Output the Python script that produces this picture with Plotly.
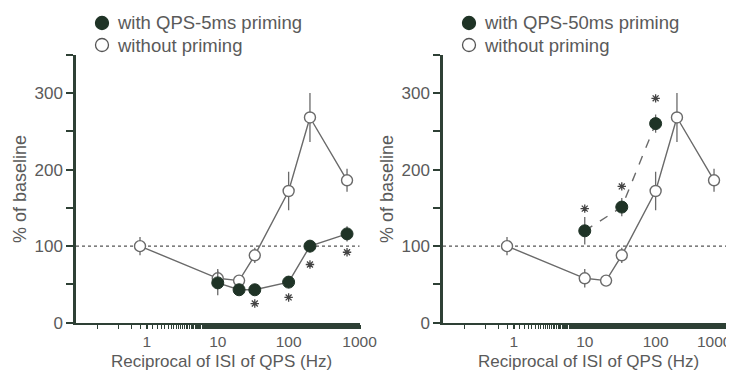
import plotly.graph_objects as go

# ---- data ----
freq = [0.8, 10, 20, 33.3, 100, 200, 667]
no_prime = [100, 58, 55, 88, 172, 268, 186]
no_prime_err = [12, 12, 4, 10, 25, 32, 15]

freq_5ms = [10, 20, 33.3, 100, 200, 667]
prime_5ms = [52, 43, 43, 53, 100, 116]
prime_5ms_err = [16, 5, 5, 8, 8, 10]
sig_5ms_x = [33.3, 100, 200, 667]
sig_5ms_y = [25, 33, 76, 92]

freq_50ms = [10, 33.3, 100]
prime_50ms = [120, 151, 260]
prime_50ms_err = [18, 12, 12]
sig_50ms_x = [10, 33.3, 100]
sig_50ms_y = [149, 178, 293]

y_ticks = [0, 100, 200, 300]
x_ticks = [1, 10, 100, 1000]
legend_5ms = ["with QPS-5ms priming", "without priming"]
legend_50ms = ["with QPS-50ms priming", "without priming"]
x_title = "Reciprocal of ISI of QPS (Hz)"
y_title = "% of baseline"

DARK = "#1f3326"
GREY = "#6a6a6a"
AX = "#2e4035"
TXT = "#5a5a5a"
FONT = "Liberation Sans, Arial, sans-serif"

# the page body has an 8px margin; size the figure so it fills the 734x371 window
OFF = 8
W, H = 734 - OFF, 371 - OFF

def px(x):
    return (x - OFF) / W

def py(y):
    return 1 - (y - OFF) / H

fig = go.Figure()

def add_panel(xa, ya, fx, fy, fe, dash, sx, sy):
    fig.add_trace(go.Scatter(
        x=freq, y=no_prime, xaxis=xa, yaxis=ya, mode="lines+markers",
        line=dict(color=GREY, width=1.4),
        marker=dict(symbol="circle", size=11, color="white", line=dict(color=GREY, width=1.4)),
        error_y=dict(type="data", array=no_prime_err, color=GREY, thickness=1.3, width=0),
        showlegend=False, cliponaxis=False))
    fig.add_trace(go.Scatter(
        x=fx, y=fy, xaxis=xa, yaxis=ya, mode="lines+markers",
        line=dict(color=GREY, width=1.4, dash=dash),
        marker=dict(symbol="circle", size=12, color=DARK, line=dict(color=DARK, width=1)),
        error_y=dict(type="data", array=fe, color=GREY, thickness=1.3, width=0),
        showlegend=False, cliponaxis=False))
    fig.add_trace(go.Scatter(
        x=sx, y=sy, xaxis=xa, yaxis=ya, mode="markers",
        marker=dict(symbol="asterisk-open", size=7, color="#444", line=dict(color="#444", width=1.3)),
        showlegend=False, cliponaxis=False))

add_panel("x", "y", freq_5ms, prime_5ms, prime_5ms_err, "solid", sig_5ms_x, sig_5ms_y)
add_panel("x2", "y2", freq_50ms, prime_50ms, prime_50ms_err, "dash", sig_50ms_x, sig_50ms_y)

xcommon = dict(type="log", range=[-1, 3.0], tickvals=x_ticks,
               ticks="outside", ticklen=4, tickwidth=2, tickcolor=AX,
               minor=dict(ticks="outside", ticklen=4, tickwidth=1.3, tickcolor=AX, showgrid=False),
               showline=True, linecolor=AX, linewidth=2, showgrid=False, zeroline=False,
               tickfont=dict(size=15.5, color=TXT, family=FONT))
ycommon = dict(range=[0, 350], tickvals=[0, 50, 100, 150, 200, 250, 300, 350],
               ticktext=["0", "", "100", "", "200", "", "300", ""],
               ticks="outside", ticklen=7, tickwidth=2, tickcolor=AX,
               showline=True, linecolor=AX, linewidth=2.5, showgrid=False, zeroline=False,
               tickfont=dict(size=17, color=TXT, family=FONT))

# right panel: last tick label is set flush with the window edge (annotation below)
right_ticktext = [str(v) for v in x_ticks[:-1]] + [""]

fig.update_layout(
    width=W, height=H, margin=dict(l=0, r=0, t=0, b=0, autoexpand=False),
    paper_bgcolor="white", plot_bgcolor="white", showlegend=False,
    xaxis=dict(xcommon, ticktext=[str(v) for v in x_ticks], domain=[px(76), px(359.5)], anchor="y"),
    yaxis=dict(ycommon, domain=[py(322.7), py(54.7)], anchor="x"),
    xaxis2=dict(xcommon, ticktext=right_ticktext, domain=[px(443), px(726.5)], anchor="y2"),
    yaxis2=dict(ycommon, domain=[py(322.7), py(54.7)], anchor="x2"),
)

fig.add_annotation(text=str(x_ticks[-1]), xref="paper", yref="paper", x=px(733), y=py(341),
                   showarrow=False, xanchor="right", yanchor="middle", borderpad=0,
                   font=dict(size=15.5, color=TXT, family=FONT))

for xr in ["x", "x2"]:
    fig.add_shape(type="line", xref=f"{xr} domain", yref=xr.replace("x", "y"), x0=0, x1=1, y0=100, y1=100,
                  line=dict(color="#555", width=1.4, dash="dot"), layer="below")

# axis titles and legends
for off, leg in [(0, legend_5ms), (367, legend_50ms)]:
    fig.add_annotation(text=x_title, xref="paper", yref="paper", x=px(off + 221), y=py(361),
                       showarrow=False, xanchor="center", yanchor="middle", borderpad=0,
                       font=dict(size=17, color=TXT, family=FONT))
    fig.add_annotation(text=y_title, xref="paper", yref="paper", x=px(off + 20), y=py(189),
                       showarrow=False, textangle=-90, xanchor="center", yanchor="middle",
                       font=dict(size=18, color=TXT, family=FONT))
    for i, (lab, filled) in enumerate(zip(leg, [True, False])):
        cy = 23 + 22 * i
        fig.add_shape(type="circle", xref="paper", yref="paper", xsizemode="pixel", ysizemode="pixel",
                      xanchor=px(off + 102), yanchor=py(cy), x0=-6.5, x1=6.5, y0=-6.5, y1=6.5,
                      fillcolor=DARK if filled else "white",
                      line=dict(color=DARK if filled else "#555", width=1.3))
        fig.add_annotation(text=lab, xref="paper", yref="paper", x=px(off + 115), y=py(cy),
                           showarrow=False, xanchor="left", yanchor="middle",
                           font=dict(size=18.5, color=TXT, family=FONT))

fig.write_html("out.html")
